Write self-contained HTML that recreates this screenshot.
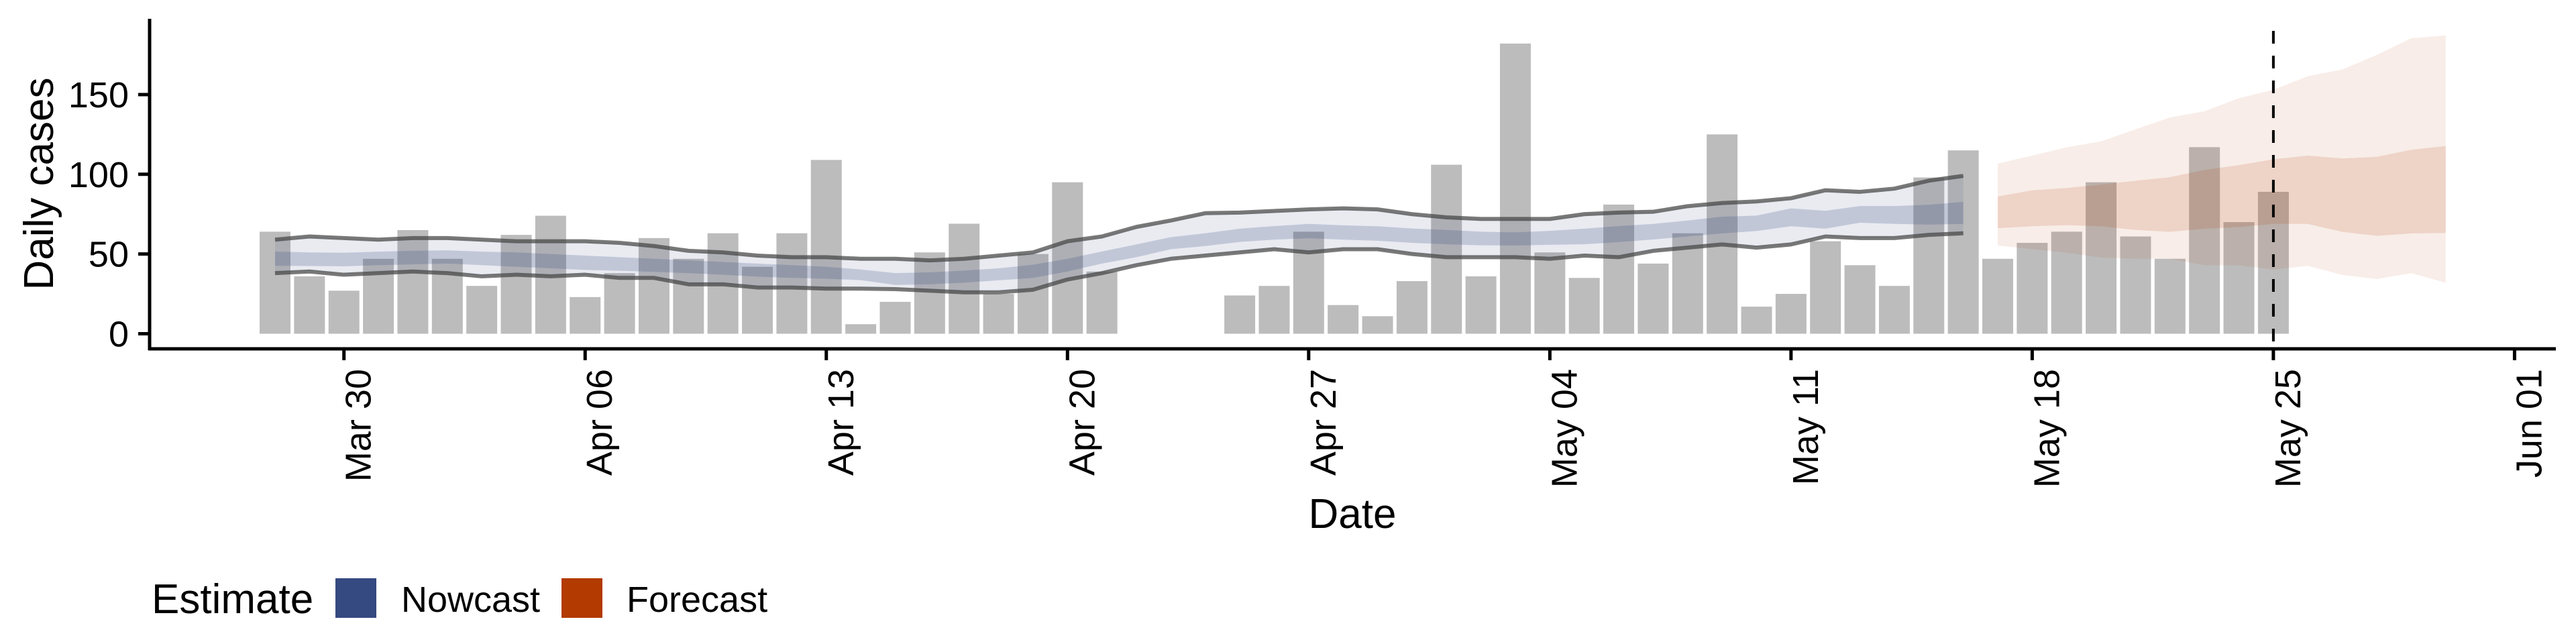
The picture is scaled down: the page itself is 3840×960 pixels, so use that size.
<!DOCTYPE html>
<html><head><meta charset="utf-8"><style>
html,body{margin:0;padding:0;background:#fff;}
svg{display:block;font-family:"Liberation Sans",Arial,sans-serif;}
</style></head><body>
<svg id="chart" width="3840" height="960" viewBox="0 0 3840 960" xmlns="http://www.w3.org/2000/svg">
<rect width="3840" height="960" fill="#fff"/>
<g id="bars"></g>
<g id="bands"></g>
<g id="axes"></g>
<text transform="translate(79,274) rotate(-90)" text-anchor="middle" font-size="62">Daily cases</text>
<text x="2016" y="787" text-anchor="middle" font-size="62">Date</text>
<g>
<text x="226" y="914" font-size="62">Estimate</text>
<rect x="500" y="862" width="61" height="59" fill="#354a80"/>
<text x="598" y="912" font-size="54">Nowcast</text>
<rect x="837" y="862" width="61" height="59" fill="#b33a00"/>
<text x="934" y="912" font-size="54">Forecast</text>
</g>
</svg>
<script>
// bars: Mar 28 .. May 25 (null = no report)
const caseValues=[64,36,27,47,65,47,30,62,74,23,38,60,47,63,42,63,109,6,20,51,69,25,50,95,39,null,null,null,24,30,64,18,11,33,106,36,182,51,35,81,44,63,125,17,25,58,43,30,98,115,47,57,64,95,61,47,117,70,89];
// nowcast Mar 28 .. May 16
const nowUpper90=[59,61,60,59,60,60,59,58,58,58,57,55,52,51,49,48,48,47,47,46,47,49,51,58,61,67,71,75.6,76,77,78,78.6,78,75,73,72,72,72,75,76,76.5,80,82,83,85,90,89,91,96,99];
const nowLower90=[38,39,37,38,39,38,36,37,36,37,35,35,31,31,29,29,28.3,28.3,28,27,26,26,27.6,34,38,43,47,49,51,53,51,53,53,50,48,48,48,47,49,48,52,54,56,54,56,61,60,60,62,63];
const nowUpper50=[51.6,51,50.8,51.5,52,52.3,51.5,51,50,49,48,47,46,45,44,43,42,40.3,38,38.5,39.6,41,43.3,47,51.6,56,60.6,63,65.9,67.5,68.9,68,67.4,66,65.1,64,63.6,64.5,65.9,67.5,68.9,71,73.4,74.1,78.6,77.1,80.1,80.1,80.9,82.7];
const nowLower50=[42.6,42.5,42.3,43,43.5,44,43,42,41,40,39.5,38.8,38,37,35.8,35,34.5,33.6,30.6,31,32,33.5,35,39,44,48,53,55,57.6,59,59.9,59,58.3,57,56.1,55.5,55.3,55.8,56.1,57.5,59.1,61,62.9,64.4,67.4,65.9,69.6,68.9,68.4,68.9];
// forecast May 17 .. May 30
const fcUpper90=[106.7,111.7,116.9,120.7,128.2,135.7,139.5,147.7,153,161.5,165.7,174.8,185.3,187.1];
const fcLower90=[55.3,53.1,50.8,47.8,47,47,42.9,42.9,40.3,42.6,36.9,34.3,38,32];
const fcUpper50=[86.1,89.9,91.4,93.6,95.9,98.2,102.7,105.7,109.4,111.7,109.9,110.9,115.4,117.7];
const fcLower50=[66.2,67.4,68.1,67.4,65.1,63.9,65.9,66.9,68.9,68.9,63.9,61.4,62.9,63.2];
const yTicks=[0,50,100,150];
const xTickLabels=["Mar 30","Apr 06","Apr 13","Apr 20","Apr 27","May 04","May 11","May 18","May 25","Jun 01"];
const xTickDay=[2,9,16,23,30,37,44,51,58,65]; // days since Mar 28
const forecastStartDay=50, vlineDay=58;

const NS="http://www.w3.org/2000/svg";
const DAY=51.36, X0=410;
function x(d){return X0+d*DAY;}
function y(v){return 497.5-v*2.377;}
function mk(tag,attrs,parent){const e=document.createElementNS(NS,tag);for(const k in attrs)e.setAttribute(k,attrs[k]);parent.appendChild(e);return e;}
const bars=document.getElementById('bars'),bands=document.getElementById('bands'),axes=document.getElementById('axes');

caseValues.forEach((v,i)=>{
  if(v===null)return;
  const r=mk('rect',{x:x(i)-23,y:y(v),width:46,height:y(0)-y(v),fill:'#bcbcbc'},bars);
  
  
});
function band(up,lo,start,fill,op,name){
  let p=up.map((v,i)=>x(start+i)+','+y(v));
  for(let i=lo.length-1;i>=0;i--)p.push(x(start+i)+','+y(lo[i]));
  const e=mk('polygon',{points:p.join(' '),fill:fill,'fill-opacity':op},bands);
  
  
}
function line(arr,start,name){
  const e=mk('polyline',{points:arr.map((v,i)=>x(start+i)+','+y(v)).join(' '),fill:'none',stroke:'#444','stroke-opacity':0.72,'stroke-width':6,'stroke-linejoin':'round'},bands);
  
  
}
band(nowUpper90,nowLower90,0,'#354a80',0.11,'nowcast-outer-band');
band(nowUpper50,nowLower50,0,'#354a80',0.22,'nowcast-inner-band');
line(nowUpper90,0,'nowcast-upper-line');
line(nowLower90,0,'nowcast-lower-line');
band(fcUpper90,fcLower90,forecastStartDay,'#b33a00',0.09,'forecast-outer-band');
band(fcUpper50,fcLower50,forecastStartDay,'#b33a00',0.14,'forecast-inner-band');

const vl=mk('line',{x1:x(vlineDay),x2:x(vlineDay),y1:46,y2:520,stroke:'#000','stroke-width':4,'stroke-dasharray':'19 18'},axes);



const ya=mk('line',{x1:223,x2:223,y1:28,y2:522,stroke:'#000','stroke-width':5},axes);


const xa=mk('line',{x1:221,x2:3810,y1:520,y2:520,stroke:'#000','stroke-width':5},axes);


yTicks.forEach(t=>{
  const tk=mk('line',{x1:206,x2:223,y1:y(t),y2:y(t),stroke:'#000','stroke-width':5},axes);
  
  
  const tx=mk('text',{x:192,y:y(t)+19,'text-anchor':'end','font-size':54},axes);
  tx.textContent=String(t);
  
  
});
xTickDay.forEach((d,i)=>{
  const tk=mk('line',{x1:x(d),x2:x(d),y1:520,y2:537,stroke:'#000','stroke-width':5},axes);
  
  
  const tx=mk('text',{transform:'translate('+(x(d)+40)+',550) rotate(-90)','text-anchor':'end','font-size':54},axes);
  tx.textContent=xTickLabels[i];
  
  
});
</script>
</body></html>
